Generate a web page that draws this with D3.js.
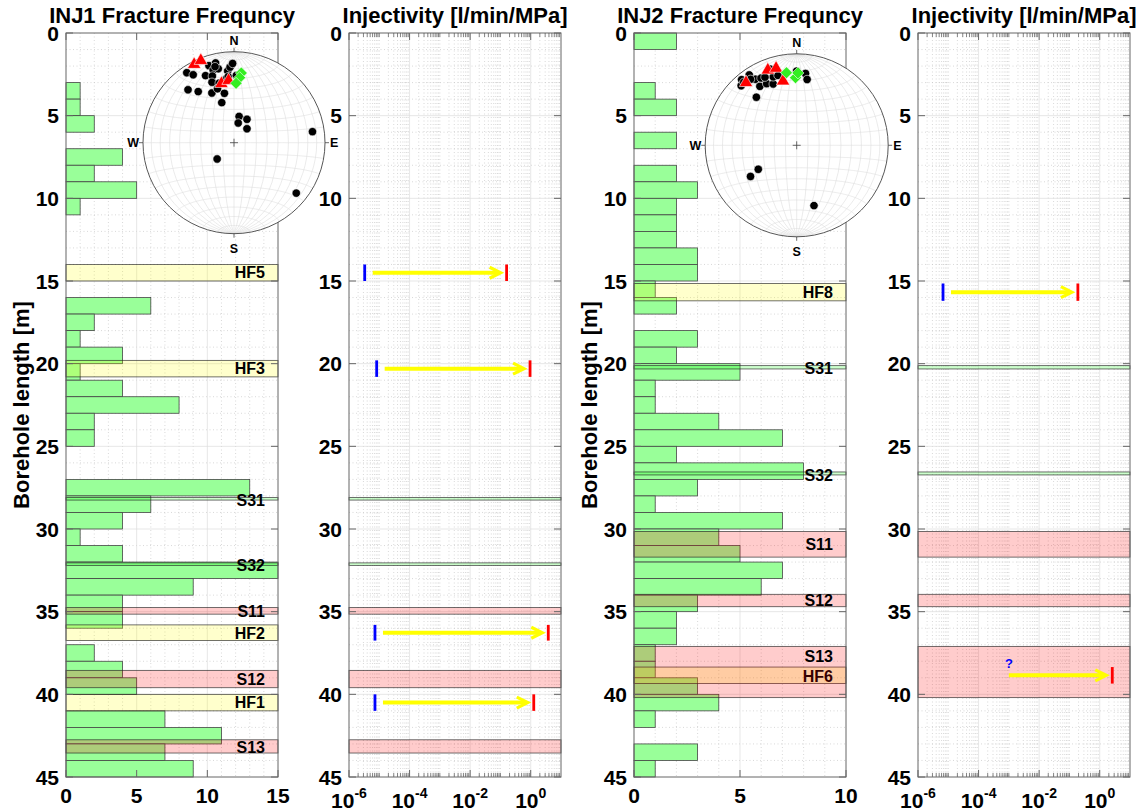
<!DOCTYPE html>
<html>
<head>
<meta charset="utf-8">
<script src="https://cdn.jsdelivr.net/npm/d3@7"></script>
<style>
  body { margin: 0; background: #fff; }
  svg text { font-family: "Liberation Sans", Arial, Helvetica, sans-serif; font-weight: bold; fill: #000; }
</style>
</head>
<body>
<svg id="svg" width="1145" height="812"></svg>
<script>
// ---------------- data ----------------
var depthTicks = [0, 5, 10, 15, 20, 25, 30, 35, 40, 45];
var freq1Ticks = [0, 5, 10, 15];
var freq2Ticks = [0, 5, 10];
var logTicks = [1e-6, 1e-4, 1e-2, 1];

// fractures per 1 m bin, bin k = [k, k+1] m
var inj1Counts = [0,0,0,1,1,2,0,4,2,5, 1,0,0,0,0,0,6,2,1,4, 1,4,8,2,2,0,0,13,6,4,
                  1,4,15,9,4,4,0,2,4,5, 0,7,11,7,9];
var inj2Counts = [2,0,0,1,2,0,2,0,2,3, 2,2,2,3,3,1,2,0,3,2, 5,1,1,4,7,2,8,3,1,7,
                  4,5,7,6,3,2,2,1,1,3, 4,1,0,3,1];

// structural zones along each borehole [m]
var inj1ZoneNames = ['HF5', 'HF3', 'S31', 'S32', 'S11', 'HF2', 'S12', 'HF1', 'S13'];
var inj1ZoneTop   = [14.0, 19.8, 28.1, 32.05, 34.75, 35.8, 38.55, 40.0, 42.75];
var inj1ZoneBot   = [15.0, 20.8, 28.25, 32.2, 35.15, 36.75, 39.6, 41.0, 43.55];
var inj1ZoneLabel = [14.5, 20.3, 28.25, 32.2, 35.0, 36.3, 39.1, 40.5, 43.2];

var inj2ZoneNames = ['HF8', 'S31', 'S32', 'S11', 'S12', 'HF6', 'S13'];
var inj2ZoneTop   = [15.15, 20.12, 26.55, 30.15, 33.95, 38.35, 37.1];
var inj2ZoneBot   = [16.2, 20.32, 26.73, 31.7, 34.7, 39.35, 40.2];
var inj2ZoneLabel = [15.7, 20.3, 26.75, 30.95, 34.3, 38.9, 37.7];

// injectivity before (blue) and after (red) stimulation [l/min/MPa]
var inj1TestZones = ['HF5', 'HF3', 'HF2', 'HF1'];
var inj1Before    = [3.3e-6, 8.2e-6, 7.2e-6, 7.2e-6];
var inj1After     = [0.16, 0.95, 3.8, 1.26];
var inj1Unknown   = [false, false, false, false];

var inj2TestZones = ['HF8', 'HF6'];
var inj2Before    = [6.7e-6, 1e-3];
var inj2After     = [0.19, 2.6];
var inj2Unknown   = [false, true];

// poles (trend, plunge in degrees), lower hemisphere
var inj1DotTrend  = [326,329,319,325,342,347,344,348,337,342,340,346,336,343,349,343,355,357,359,353,355,11,29,12,43,82,226,129,2,346];
var inj1DotPlunge = [8,14,24,32,12,11,18,18,21,24,30,33,40,38,44,52,22,18,14,30,28,66,66,72,73,14,69,13,27,15];
var inj1TriTrend  = [333, 338, 348, 355];
var inj1TriPlunge = [4, 3, 34, 32];
var inj1DiaTrend  = [6, 5, 2];
var inj1DiaPlunge = [24, 29, 35];

var inj2DotTrend  = [320,317,326,328,332,328,334,339,341,320,325,345,0,7,9,341,236,238,164,320,335];
var inj2DotPlunge = [7,12,8,16,18,25,26,29,22,32,13,22,20,22,28,13,39,49,32,11,19];
var inj2TriTrend  = [321, 339, 345, 348];
var inj2TriPlunge = [13, 13, 14, 29];
var inj2DiaTrend  = [352, 359, 1];
var inj2DiaPlunge = [21, 27, 22];

// ---------------- layout ----------------
var svg = d3.select('#svg');
var plotTop = 33, plotBottom = 777, plotW = 212;
var panelLeft = [66, 349, 634, 918];
var axisColor = '#666';

var y = d3.scaleLinear().domain([0, 45]).range([plotTop, plotBottom]);

var xF1 = d3.scaleLinear().domain([0, 15]).range([panelLeft[0], panelLeft[0] + plotW]);
var xI1 = d3.scaleLog().domain([1e-6, 10]).range([panelLeft[1], panelLeft[1] + plotW]);
var xF2 = d3.scaleLinear().domain([0, 10]).range([panelLeft[2], panelLeft[2] + plotW]);
var xI2 = d3.scaleLog().domain([1e-6, 10]).range([panelLeft[3], panelLeft[3] + plotW]);

function hline(g, v, x0, x1, stroke, dash) {
  g.append('line').attr('x1', x0).attr('x2', x1).attr('y1', y(v)).attr('y2', y(v))
    .attr('stroke', stroke).attr('stroke-width', 0.7).attr('stroke-dasharray', dash);
}
function vline(g, xp, stroke, dash) {
  g.append('line').attr('x1', xp).attr('x2', xp).attr('y1', plotTop).attr('y2', plotBottom)
    .attr('stroke', stroke).attr('stroke-width', 0.7).attr('stroke-dasharray', dash);
}

// grid, returns group for data
function drawGrid(x, isLog, majorTicks) {
  var g = svg.append('g');
  var r = x.range();
  var minorX;
  if (isLog) {
    minorX = [];
    d3.range(-6, 1).forEach(function(e) {
      d3.range(1, 10).forEach(function(k) {
        var v = k * Math.pow(10, e);
        if (!(k === 1 && e % 2 === 0)) minorX.push(v);
      });
    });
  } else {
    minorX = d3.range(x.domain()[0] + 1, x.domain()[1]).filter(function(d) { return d % 5 !== 0; });
  }
  d3.range(1, 45).filter(function(d) { return d % 5 !== 0; }).forEach(function(d) {
    hline(g, d, r[0], r[1], '#c8c8c8', '1,2.5');
  });
  minorX.forEach(function(v) { vline(g, x(v), '#c8c8c8', '1,2.5'); });
  depthTicks.slice(1, -1).forEach(function(d) { hline(g, d, r[0], r[1], '#dcdcdc', null); });
  majorTicks.forEach(function(v) {
    if (x(v) > r[0] + 1 && x(v) < r[1] - 1) vline(g, x(v), '#dcdcdc', null);
  });
  return g;
}

function drawFrame(x, isLog, majorTicks, title, showYLabel) {
  var g = svg.append('g');
  var r = x.range();
  var tl = 7;
  depthTicks.forEach(function(d) {
    g.append('line').attr('x1', r[0]).attr('x2', r[0] + tl).attr('y1', y(d)).attr('y2', y(d)).attr('stroke', axisColor);
    g.append('line').attr('x1', r[1]).attr('x2', r[1] - tl).attr('y1', y(d)).attr('y2', y(d)).attr('stroke', axisColor);
  });
  majorTicks.forEach(function(v) {
    g.append('line').attr('x1', x(v)).attr('x2', x(v)).attr('y1', plotBottom).attr('y2', plotBottom - tl).attr('stroke', axisColor);
    g.append('line').attr('x1', x(v)).attr('x2', x(v)).attr('y1', plotTop).attr('y2', plotTop + tl).attr('stroke', axisColor);
  });
  if (isLog) {
    d3.range(-6, 1).forEach(function(e) {
      d3.range(1, 10).forEach(function(k) {
        if (k === 1 && e % 2 === 0) return;
        var xp = x(k * Math.pow(10, e));
        g.append('line').attr('x1', xp).attr('x2', xp).attr('y1', plotBottom).attr('y2', plotBottom - 4).attr('stroke', axisColor).attr('stroke-width', 0.8);
        g.append('line').attr('x1', xp).attr('x2', xp).attr('y1', plotTop).attr('y2', plotTop + 4).attr('stroke', axisColor).attr('stroke-width', 0.8);
      });
    });
  }
  g.append('rect').attr('x', r[0]).attr('y', plotTop).attr('width', r[1] - r[0]).attr('height', plotBottom - plotTop)
    .attr('fill', 'none').attr('stroke', axisColor).attr('stroke-width', 1);

  // tick labels
  depthTicks.forEach(function(d) {
    g.append('text').attr('x', r[0] - 7).attr('y', y(d)).attr('dy', '0.36em')
      .attr('text-anchor', 'end').style('font-size', '21px').text(d);
  });
  majorTicks.forEach(function(v) {
    var t = g.append('text').attr('x', x(v)).attr('text-anchor', 'middle').style('font-size', '21px');
    if (isLog) {
      t.attr('y', 808);
      t.append('tspan').text('10');
      t.append('tspan').attr('dy', -10).style('font-size', '14px').text(Math.round(Math.log10(v)));
    } else {
      t.attr('y', 803).text(v);
    }
  });
  g.append('text').attr('x', (r[0] + r[1]) / 2).attr('y', 23).attr('text-anchor', 'middle')
    .style('font-size', '22px').text(title);
  if (showYLabel) {
    g.append('text').attr('transform', 'translate(' + (r[0] - 37) + ',' + ((plotTop + plotBottom) / 2) + ') rotate(-90)')
      .attr('text-anchor', 'middle').style('font-size', '22px').text('Borehole length [m]');
  }
}

function zoneColor(name) {
  if (name.indexOf('HF') === 0) return '#ffff00';
  if (name.indexOf('S1') === 0) return '#ff0000';
  return '#00ff00';
}

function drawBars(g, x, counts) {
  g.selectAll('rect.bar').data(counts.map(function(c, k) { return { d: k, c: c }; }).filter(function(o) { return o.c > 0; }))
    .enter().append('rect').attr('class', 'bar')
    .attr('x', x(0)).attr('width', function(o) { return x(o.c) - x(0); })
    .attr('y', function(o) { return y(o.d); }).attr('height', function(o) { return y(o.d + 1) - y(o.d); })
    .attr('fill', '#99ff99').attr('stroke', '#444').attr('stroke-width', 0.8);
}

function drawZones(g, x, names, tops, bots, labels, onlyS) {
  var r = x.range();
  names.forEach(function(n, k) {
    if (onlyS && n.indexOf('HF') === 0) return;
    g.append('rect').attr('x', r[0]).attr('width', r[1] - r[0])
      .attr('y', y(tops[k])).attr('height', y(bots[k]) - y(tops[k]))
      .attr('fill', zoneColor(n)).attr('fill-opacity', 0.2)
      .attr('stroke', '#222').attr('stroke-opacity', 0.8).attr('stroke-width', 0.8);
    if (labels) {
      g.append('text').attr('x', r[1] - 13).attr('y', y(labels[k])).attr('dy', '0.36em')
        .attr('text-anchor', 'end').style('font-size', '16px').text(n);
    }
  });
}

function drawTests(g, x, zoneNames, tops, bots, testZones, before, after, unknown) {
  testZones.forEach(function(z, k) {
    var i = zoneNames.indexOf(z);
    var y0 = y(tops[i]), y1 = y(bots[i]), yc = (y0 + y1) / 2;
    var xs = x(before[k]), xe = x(after[k]);
    var a0 = unknown[k] ? xs : xs + 8, a1 = xe - 6;
    g.append('line').attr('x1', a0).attr('x2', a1 - 2).attr('y1', yc).attr('y2', yc)
      .attr('stroke', '#ffff00').attr('stroke-width', 4);
    g.append('path').attr('d', 'M' + (a1 - 11) + ',' + (yc - 5.5) + 'L' + a1 + ',' + yc + 'L' + (a1 - 11) + ',' + (yc + 5.5))
      .attr('fill', 'none').attr('stroke', '#ffff00').attr('stroke-width', 3.2);
    if (unknown[k]) {
      g.append('text').attr('x', xs).attr('y', yc - 7).attr('text-anchor', 'middle')
        .style('font-size', '13px').style('fill', '#0000ff').text('?');
    } else {
      g.append('line').attr('x1', xs).attr('x2', xs).attr('y1', y0).attr('y2', y1)
        .attr('stroke', '#0000ff').attr('stroke-width', 2.8);
    }
    g.append('line').attr('x1', xe).attr('x2', xe).attr('y1', y0).attr('y2', y1)
      .attr('stroke', '#ff0000').attr('stroke-width', 2.8);
  });
}

// lower-hemisphere equal-area net
function toLonLat(trend, plunge) {
  var c = (90 - plunge) * Math.PI / 180, t = trend * Math.PI / 180;
  var vx = Math.cos(c), vy = Math.sin(c) * Math.sin(t), vz = Math.sin(c) * Math.cos(t);
  return [Math.atan2(vy, vx) * 180 / Math.PI, Math.asin(vz) * 180 / Math.PI];
}

function drawNet(cx, cy, R, dotT, dotP, triT, triP, diaT, diaP) {
  var g = svg.append('g');
  var proj = d3.geoAzimuthalEqualArea().scale(R / Math.SQRT2).translate([cx, cy]).clipAngle(90).precision(0.2);
  var path = d3.geoPath(proj);
  var grat = d3.geoGraticule().extent([[-180, -89.999], [180, 89.999]]).step([10, 10]).precision(1);

  g.append('circle').attr('cx', cx).attr('cy', cy).attr('r', R).attr('fill', '#fff');
  g.append('path').datum(grat()).attr('d', path).attr('fill', 'none').attr('stroke', '#dedede').attr('stroke-width', 0.6);
  g.append('circle').attr('cx', cx).attr('cy', cy).attr('r', R).attr('fill', 'none').attr('stroke', '#444').attr('stroke-width', 0.9);

  // cardinal ticks and centre cross
  [[0, -1], [0, 1], [-1, 0], [1, 0]].forEach(function(d) {
    g.append('line').attr('x1', cx + d[0] * R).attr('y1', cy + d[1] * R)
      .attr('x2', cx + d[0] * (R + 4)).attr('y2', cy + d[1] * (R + 4)).attr('stroke', '#444').attr('stroke-width', 0.8);
  });
  g.append('path').attr('d', 'M' + (cx - 4) + ',' + cy + 'H' + (cx + 4) + 'M' + cx + ',' + (cy - 4) + 'V' + (cy + 4))
    .attr('stroke', '#444').attr('stroke-width', 0.8);
  g.append('text').attr('x', cx).attr('y', cy - R - 7).attr('text-anchor', 'middle').style('font-size', '12.5px').text('N');
  g.append('text').attr('x', cx).attr('y', cy + R + 19).attr('text-anchor', 'middle').style('font-size', '12.5px').text('S');
  g.append('text').attr('x', cx - R - 4).attr('y', cy).attr('dy', '0.36em').attr('text-anchor', 'end').style('font-size', '12.5px').text('W');
  g.append('text').attr('x', cx + R + 5).attr('y', cy).attr('dy', '0.36em').attr('text-anchor', 'start').style('font-size', '12.5px').text('E');

  dotT.forEach(function(t, k) {
    var p = proj(toLonLat(t, dotP[k]));
    g.append('circle').attr('cx', p[0]).attr('cy', p[1]).attr('r', 4.2)
      .attr('fill', '#000').attr('stroke', '#fff').attr('stroke-width', 0.6);
  });
  triT.forEach(function(t, k) {
    var p = proj(toLonLat(t, triP[k]));
    g.append('path').attr('d', d3.symbol(d3.symbolTriangle, 78)()).attr('transform', 'translate(' + p[0] + ',' + p[1] + ')')
      .attr('fill', '#ff0000').attr('stroke', '#fff').attr('stroke-width', 0.6);
  });
  diaT.forEach(function(t, k) {
    var p = proj(toLonLat(t, diaP[k]));
    g.append('path').attr('d', 'M0,-6L6,0L0,6L-6,0Z').attr('transform', 'translate(' + p[0] + ',' + p[1] + ')')
      .attr('fill', '#33ee22').attr('stroke', '#fff').attr('stroke-width', 0.6);
  });
}

// ---------------- panels ----------------
var g1 = drawGrid(xF1, false, freq1Ticks);
drawBars(g1, xF1, inj1Counts);
drawZones(g1, xF1, inj1ZoneNames, inj1ZoneTop, inj1ZoneBot, inj1ZoneLabel, false);
drawFrame(xF1, false, freq1Ticks, 'INJ1 Fracture Frequncy', true);

var g2 = drawGrid(xI1, true, logTicks);
drawZones(g2, xI1, inj1ZoneNames, inj1ZoneTop, inj1ZoneBot, null, true);
drawTests(g2, xI1, inj1ZoneNames, inj1ZoneTop, inj1ZoneBot, inj1TestZones, inj1Before, inj1After, inj1Unknown);
drawFrame(xI1, true, logTicks, 'Injectivity [l/min/MPa]', false);

var g3 = drawGrid(xF2, false, freq2Ticks);
drawBars(g3, xF2, inj2Counts);
drawZones(g3, xF2, inj2ZoneNames, inj2ZoneTop, inj2ZoneBot, inj2ZoneLabel, false);
drawFrame(xF2, false, freq2Ticks, 'INJ2 Fracture Frequncy', true);

var g4 = drawGrid(xI2, true, logTicks);
drawZones(g4, xI2, inj2ZoneNames, inj2ZoneTop, inj2ZoneBot, null, true);
drawTests(g4, xI2, inj2ZoneNames, inj2ZoneTop, inj2ZoneBot, inj2TestZones, inj2Before, inj2After, inj2Unknown);
drawFrame(xI2, true, logTicks, 'Injectivity [l/min/MPa]', false);

drawNet(234, 142.7, 91, inj1DotTrend, inj1DotPlunge, inj1TriTrend, inj1TriPlunge, inj1DiaTrend, inj1DiaPlunge);
drawNet(796.7, 145.3, 91.5, inj2DotTrend, inj2DotPlunge, inj2TriTrend, inj2TriPlunge, inj2DiaTrend, inj2DiaPlunge);
</script>
</body>
</html>
